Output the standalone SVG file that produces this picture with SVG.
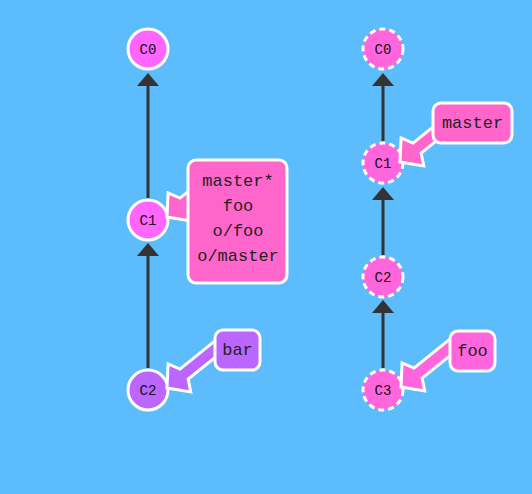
<svg xmlns="http://www.w3.org/2000/svg" xmlns:xlink="http://www.w3.org/1999/xlink" width="532" height="494" viewBox="0 0 532 494">
<style>
.bg{fill:#5cbcfc}
.edge{stroke:#333;stroke-width:3;fill:none}
.head{fill:#333}
.commit{stroke:#fff;stroke-width:3}
.dash{stroke-dasharray:6 4}
.clabel{font-family:"Liberation Mono","Courier New",monospace;font-size:14px;fill:#111;text-anchor:middle}
.box{stroke:#fff;stroke-width:3}
.blabel{font-family:"Liberation Mono","Courier New",monospace;font-size:17px;fill:#222;text-anchor:middle}
.barrow{stroke:#fff;stroke-width:3;stroke-linejoin:miter}
</style>
<defs>
  <polygon id="barrow" points="0,0 16,18 22,6.5 75,6.5 75,-6.5 22,-6.5 16,-18"/>
</defs>
<rect class="bg" x="0" y="0" width="532" height="494"/>
<g id="connectors">
  <line class="edge" x1="148" y1="198" x2="148" y2="84"/>
  <polygon class="head" points="148,73 137,86 159,86"/>
  <line class="edge" x1="148" y1="368" x2="148" y2="254"/>
  <polygon class="head" points="148,243 137,256 159,256"/>
  <line class="edge" x1="383" y1="141" x2="383" y2="84"/>
  <polygon class="head" points="383,73 372,86 394,86"/>
  <line class="edge" x1="383" y1="255" x2="383" y2="198"/>
  <polygon class="head" points="383,187 372,200 394,200"/>
  <line class="edge" x1="383" y1="368" x2="383" y2="311"/>
  <polygon class="head" points="383,300 372,313 394,313"/>
</g>
<g id="left-C0"><circle class="commit" cx="148" cy="49" r="20" fill="#ff66ff"/><text class="clabel" x="148" y="54">C0</text></g>
<g id="left-C1"><circle class="commit" cx="148" cy="220" r="20" fill="#ff66ff"/><text class="clabel" x="148" y="225">C1</text></g>
<g id="left-C2"><circle class="commit" cx="148" cy="390" r="20" fill="#bb66ff"/><text class="clabel" x="148" y="395">C2</text></g>
<g id="right-C0"><circle class="commit dash" cx="383" cy="49" r="20" fill="#ff66dd"/><text class="clabel" x="383" y="54">C0</text></g>
<g id="right-C1"><circle class="commit dash" cx="383" cy="163" r="20" fill="#ff66dd"/><text class="clabel" x="383" y="168">C1</text></g>
<g id="right-C2"><circle class="commit dash" cx="383" cy="277" r="20" fill="#ff66dd"/><text class="clabel" x="383" y="282">C2</text></g>
<g id="right-C3"><circle class="commit dash" cx="383" cy="390" r="20" fill="#ff66dd"/><text class="clabel" x="383" y="395">C3</text></g>
<g id="branch-left-master">
  <use xlink:href="#barrow" class="barrow" fill="#ff66cc" transform="translate(167,217) rotate(-39)"/>
  <rect class="box" x="188" y="160" width="99" height="123" rx="8" fill="#ff66cc"/>
  <text class="blabel" x="238" y="186">master*</text>
  <text class="blabel" x="238" y="211">foo</text>
  <text class="blabel" x="238" y="236">o/foo</text>
  <text class="blabel" x="238" y="261">o/master</text>
</g>
<g id="branch-bar">
  <use xlink:href="#barrow" class="barrow" fill="#bb66ff" transform="translate(167,388) rotate(-39)"/>
  <rect class="box" x="215" y="330" width="45" height="40" rx="8" fill="#bb66ff"/>
  <text class="blabel" x="237.5" y="355">bar</text>
</g>
<g id="branch-right-master">
  <use xlink:href="#barrow" class="barrow" fill="#ff66cc" transform="translate(400,162) rotate(-39)"/>
  <rect class="box" x="433" y="103" width="79" height="40" rx="8" fill="#ff66cc"/>
  <text class="blabel" x="472.5" y="128">master</text>
</g>
<g id="branch-right-foo">
  <use xlink:href="#barrow" class="barrow" fill="#ff66dd" transform="translate(401,387) rotate(-39)"/>
  <rect class="box" x="450" y="331" width="45" height="40" rx="8" fill="#ff66dd"/>
  <text class="blabel" x="472.5" y="356">foo</text>
</g>
</svg>
